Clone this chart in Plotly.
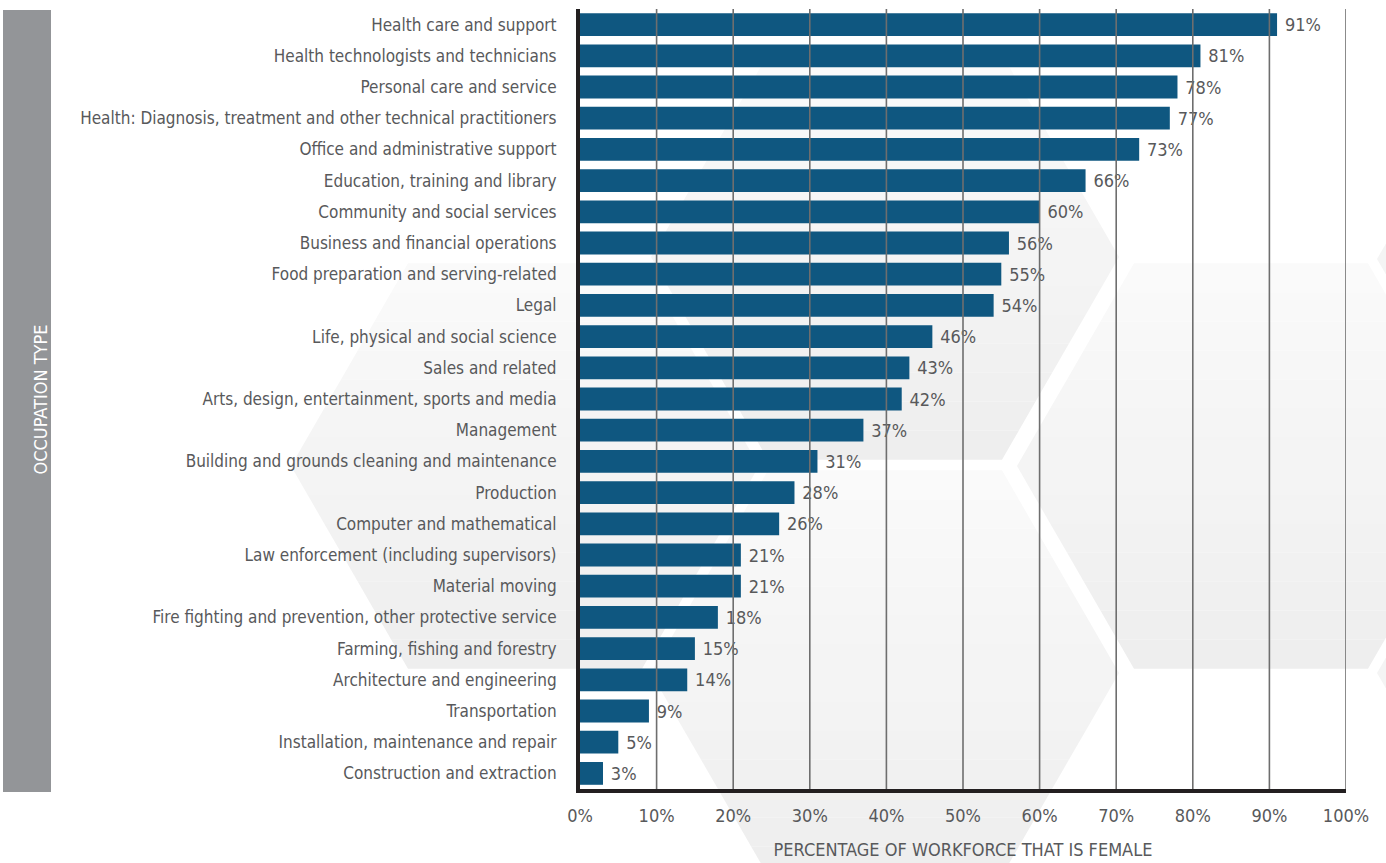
import math
import plotly.graph_objects as go

# Share of each occupation group's workforce that is female (%)
occupations = [
    "Health care and support",
    "Health technologists and technicians",
    "Personal care and service",
    "Health: Diagnosis, treatment and other technical practitioners",
    "Office and administrative support",
    "Education, training and library",
    "Community and social services",
    "Business and financial operations",
    "Food preparation and serving-related",
    "Legal",
    "Life, physical and social science",
    "Sales and related",
    "Arts, design, entertainment, sports and media",
    "Management",
    "Building and grounds cleaning and maintenance",
    "Production",
    "Computer and mathematical",
    "Law enforcement (including supervisors)",
    "Material moving",
    "Fire fighting and prevention, other protective service",
    "Farming, fishing and forestry",
    "Architecture and engineering",
    "Transportation",
    "Installation, maintenance and repair",
    "Construction and extraction",
]
female_pct = [91, 81, 78, 77, 73, 66, 60, 56, 55, 54, 46, 43, 42, 37, 31,
              28, 26, 21, 21, 18, 15, 14, 9, 5, 3]
x_ticks = [0, 10, 20, 30, 40, 50, 60, 70, 80, 90, 100]
x_tick_labels = [f"{t}%" for t in x_ticks]

FONT = "DejaVu Sans Condensed, Liberation Sans Narrow, Arial Narrow, sans-serif"
TEXT_GREY = "#58595b"
BAR_BLUE = "#0f5780"
AXIS_BLACK = "#231f20"

W, H = 1386, 863
M_L, M_R, M_T, M_B = 580, 40, 9, 74
PLOT_W = W - M_L - M_R
PLOT_H = H - M_T - M_B


def px_x(p):
    return (p - M_L) / PLOT_W


def px_y(p):
    return (H - M_B - p) / PLOT_H


fig = go.Figure()
fig.add_trace(go.Bar(
    x=female_pct,
    y=occupations,
    orientation="h",
    marker=dict(color=BAR_BLUE, line=dict(width=0)),
    text=[f"\u2009\u200a{v}%" for v in female_pct],
    textposition="outside",
    constraintext="none",
    cliponaxis=False,
    textfont=dict(family=FONT, size=18, color=TEXT_GREY),
    hoverinfo="skip",
))

shapes = []

# Faint honeycomb backdrop, shaded top-to-bottom in thin horizontal bands
HEX_SIDE = 234
hex_centres = [(525, 466), (885, 257), (885, 673), (1251, 466), (1611, 259), (1611, 673)]
N_BANDS = 14


def hex_half_width(dy, s):
    h = s * math.sqrt(3) / 2
    return s - abs(dy) / h * (s / 2)


for cx, cy in hex_centres:
    h = HEX_SIDE * math.sqrt(3) / 2
    top, bottom = cy - h, cy + h
    for b in range(N_BANDS):
        y1 = top + (bottom - top) * b / N_BANDS
        y2 = top + (bottom - top) * (b + 1) / N_BANDS
        ys = [y1]
        if y1 < cy < y2:
            ys.append(cy)
        ys.append(y2)
        left = [(cx - hex_half_width(y - cy, HEX_SIDE), y) for y in ys]
        right = [(cx + hex_half_width(y - cy, HEX_SIDE), y) for y in reversed(ys)]
        pts = left + right
        path = "M " + " L ".join(f"{px_x(x):.5f},{px_y(y):.5f}" for x, y in pts) + " Z"
        g = round(250 - 12 * (b + 0.5) / N_BANDS)
        shapes.append(dict(type="path", path=path, xref="paper", yref="paper",
                           fillcolor=f"rgb({g},{g},{g})", line=dict(width=0),
                           layer="below"))

# Grey side panel for the category axis title
shapes.append(dict(type="rect", xref="paper", yref="paper",
                   x0=px_x(3), x1=px_x(51), y0=px_y(792), y1=px_y(10),
                   fillcolor="#939598", line=dict(width=0), layer="below"))

# Vertical gridlines drawn over the bars
for t in x_ticks[1:]:
    shapes.append(dict(type="line", xref="x", yref="paper", x0=t, x1=t, y0=0, y1=1,
                       line=dict(color="#6e6e6e", width=1.6), layer="above"))

fig.update_layout(
    width=W, height=H,
    margin=dict(l=M_L, r=M_R, t=M_T, b=M_B, pad=0),
    paper_bgcolor="white",
    plot_bgcolor="rgba(0,0,0,0)",
    showlegend=False,
    bargap=0.27,
    font=dict(family=FONT, color=TEXT_GREY),
    shapes=shapes,
    annotations=[dict(
        text="OCCUPATION TYPE", xref="paper", yref="paper",
        x=px_x(27), y=px_y(400), textangle=-90, showarrow=False,
        font=dict(family=FONT, size=18, color="white"),
    )],
    xaxis=dict(
        range=[0, 100], tickvals=x_ticks, ticktext=x_tick_labels,
        showgrid=False, zeroline=False, ticks="", automargin=False,
        showline=True, linewidth=4, linecolor=AXIS_BLACK,
        tickfont=dict(family=FONT, size=18, color=TEXT_GREY),
        ticklabelstandoff=7,
        title=dict(text="PERCENTAGE OF WORKFORCE THAT IS FEMALE",
                   font=dict(family=FONT, size=18, color=TEXT_GREY), standoff=20),
    ),
    yaxis=dict(
        autorange="reversed", showgrid=False, zeroline=False, ticks="", automargin=False,
        showline=True, linewidth=4, linecolor=AXIS_BLACK,
        tickfont=dict(family=FONT, size=17, color=TEXT_GREY),
        ticklabelstandoff=16,
    ),
)

fig.write_html("out.html")
